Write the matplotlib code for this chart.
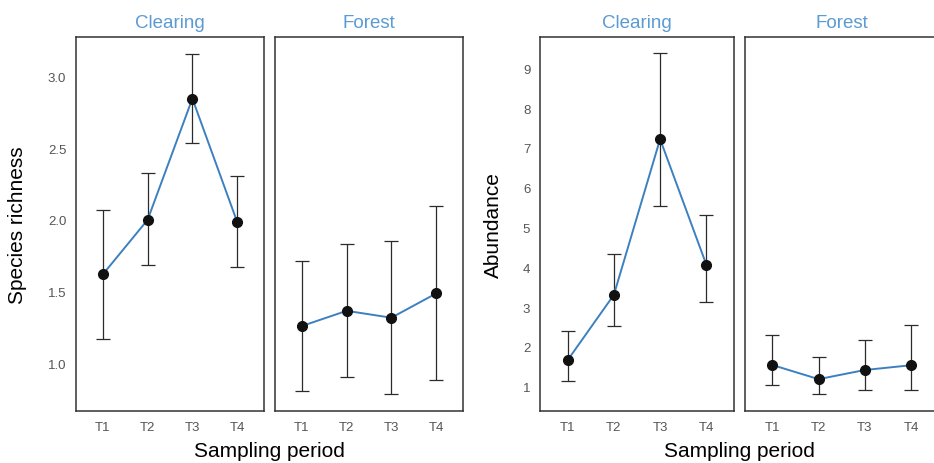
import numpy as np
from matplotlib import pyplot as plt

plt.rcParams['font.family'] = ['Liberation Sans', 'DejaVu Sans']

periods = ['T1', 'T2', 'T3', 'T4']
habitats = ['Clearing', 'Forest']

# species richness: mean, lower, upper
rich_mean = {'Clearing': [1.62, 2.00, 2.845, 1.986], 'Forest': [1.26, 1.366, 1.318, 1.487]}
rich_lo = {'Clearing': [1.167, 1.682, 2.534, 1.67], 'Forest': [0.809, 0.907, 0.786, 0.884]}
rich_hi = {'Clearing': [2.07, 2.327, 3.156, 2.304], 'Forest': [1.71, 1.829, 1.852, 2.095]}

# abundance: mean, lower, upper
abund_mean = {'Clearing': [1.67, 3.31, 7.22, 4.07], 'Forest': [1.545, 1.19, 1.42, 1.54]}
abund_lo = {'Clearing': [1.14, 2.52, 5.55, 3.13], 'Forest': [1.035, 0.82, 0.925, 0.93]}
abund_hi = {'Clearing': [2.40, 4.33, 9.38, 5.32], 'Forest': [2.30, 1.74, 2.18, 2.56]}

rich_ticks = [1.0, 1.5, 2.0, 2.5, 3.0]
abund_ticks = [1, 2, 3, 4, 5, 6, 7, 8, 9]

W, H = 934, 464
fig = plt.figure(figsize=(W / 100, H / 100), dpi=100)

line_col = '#3d80c0'
title_col = '#5b9bd3'
tick_col = '#555555'


def panel(left, width, hab, mean, lo, hi, ylim, yticks, fmt, show_y):
    ax = fig.add_axes([left / W, 1 - 412 / H, width / W, 374 / H])
    x = np.arange(1, 5)
    m = np.array(mean[hab])
    yerr = [m - np.array(lo[hab]), np.array(hi[hab]) - m]
    ax.errorbar(x, m, yerr=yerr, fmt='none', ecolor='#2b2b2b', elinewidth=0.9,
                capsize=5, capthick=0.9, zorder=2)
    ax.plot(x, m, color=line_col, lw=1.4, zorder=3)
    ax.plot(x, m, 'o', color='#111111', ms=7, zorder=4)
    ax.set_xlim(0.4, 4.6)
    ax.set_ylim(*ylim)
    ax.set_xticks(x)
    ax.set_xticklabels(periods)
    ax.set_yticks(yticks)
    if show_y:
        ax.set_yticklabels([fmt.format(t) for t in yticks])
    else:
        ax.set_yticklabels([])
    ax.tick_params(length=0, labelsize=9.5, colors=tick_col, pad=7)
    for s in ax.spines.values():
        s.set_color('#333333')
        s.set_linewidth(1.1)
    ax.set_title(hab, color=title_col, fontsize=13.5, pad=7.5)
    return ax


# species richness
panel(76, 188, 'Clearing', rich_mean, rich_lo, rich_hi, (0.668, 3.274), rich_ticks, '{:.1f}', True)
panel(275, 188, 'Forest', rich_mean, rich_lo, rich_hi, (0.668, 3.274), rich_ticks, '{:.1f}', False)
fig.text(18 / W, 1 - 225 / H, 'Species richness', rotation=90, ha='center', va='center', fontsize=15)
fig.text(269.5 / W, 1 - 452 / H, 'Sampling period', ha='center', va='center', fontsize=15)

# abundance
panel(540, 194, 'Clearing', abund_mean, abund_lo, abund_hi, (0.39, 9.787), abund_ticks, '{:d}', True)
panel(744.7, 194, 'Forest', abund_mean, abund_lo, abund_hi, (0.39, 9.787), abund_ticks, '{:d}', False)
fig.text(493 / W, 1 - 225 / H, 'Abundance', rotation=90, ha='center', va='center', fontsize=15)
fig.text(739 / W, 1 - 452 / H, 'Sampling period', ha='center', va='center', fontsize=15)

fig.savefig('out.png', dpi=100)
